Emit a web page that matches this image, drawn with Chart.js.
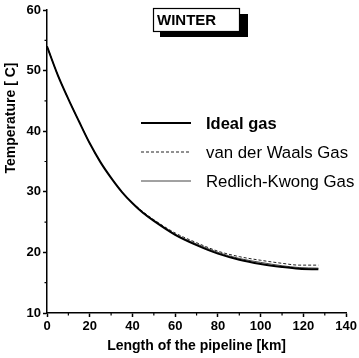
<!DOCTYPE html>
<html>
<head>
<meta charset="utf-8">
<script src="https://cdn.jsdelivr.net/npm/chart.js@4.4.1/dist/chart.umd.min.js"></script>
<style>
html,body{margin:0;padding:0;background:#fff;}
#wrap{width:359px;height:358px;position:relative;}
</style>
</head>
<body>
<div id="wrap"><canvas id="c" width="359" height="358"></canvas></div>
<script>
// Distance along pipeline [km]
const distance = [0, 5, 10, 15, 20, 25, 30, 35, 40, 45, 50, 60, 70, 80, 90, 100, 110, 118, 127];
// Temperature [C]
const idealGas   = [54.0, 49.3, 45.3, 41.6, 38.0, 34.9, 32.3, 30.0, 28.1, 26.5, 25.2, 22.9, 21.2, 19.8, 18.8, 18.1, 17.6, 17.3, 17.2];
const vanDerWaals = [54.0, 49.3, 45.3, 41.6, 38.0, 34.9, 32.3, 30.0, 28.2, 26.7, 25.4, 23.2, 21.6, 20.2, 19.3, 18.7, 18.2, 17.9, 17.9];
const redlichKwong = [54.0, 49.3, 45.3, 41.6, 38.0, 34.9, 32.3, 30.0, 28.1, 26.6, 25.3, 23.0, 21.4, 20.0, 19.0, 18.35, 17.8, 17.5, 17.4];
const seriesNames = ["Ideal gas", "van der Waals Gas", "Redlich-Kwong Gas"];
const xTicks = [0, 20, 40, 60, 80, 100, 120, 140];
const yTicks = [10, 20, 30, 40, 50, 60];
const xMinor = [10, 30, 50, 70, 90, 110, 130];
const yMinor = [15, 25, 35, 45, 55];
const panelLabel = "WINTER";
const xTitle = "Length of the pipeline [km]";
const yTitle = "Temperature [ C]";

const FONT = "'Liberation Sans', Arial, sans-serif";
const toXY = arr => arr.map((v, i) => ({x: distance[i], y: v}));

const extras = {
  id: 'extras',
  afterDraw(chart) {
    const ctx = chart.ctx;
    const xs = chart.scales.x, ys = chart.scales.y;
    const ca = chart.chartArea;
    ctx.save();
    // minor ticks
    ctx.strokeStyle = '#000';
    ctx.lineWidth = 1.2;
    ctx.beginPath();
    yMinor.forEach(v => { const p = ys.getPixelForValue(v); ctx.moveTo(ca.left - 2.5, p); ctx.lineTo(ca.left, p); });
    xMinor.forEach(v => { const p = xs.getPixelForValue(v); ctx.moveTo(p, ca.bottom); ctx.lineTo(p, ca.bottom + 2.5); });
    ctx.stroke();
    // axis titles
    ctx.fillStyle = '#000';
    ctx.font = "bold 14px " + FONT;
    ctx.textAlign = 'center';
    ctx.textBaseline = 'middle';
    ctx.fillText(xTitle, (ca.left + ca.right) / 2, 346);
    ctx.save();
    ctx.translate(11, 118);
    ctx.rotate(-Math.PI / 2);
    ctx.font = "bold 14px " + FONT;
    ctx.fillText(yTitle, 0, 0);
    ctx.restore();
    // legend
    const ly = [123, 152, 181];
    chart.data.datasets.forEach((ds, i) => {
      ctx.save();
      ctx.strokeStyle = ds.borderColor;
      ctx.lineWidth = ds.borderWidth;
      ctx.setLineDash(ds.borderDash || []);
      ctx.beginPath();
      ctx.moveTo(141, ly[i]);
      ctx.lineTo(191, ly[i]);
      ctx.stroke();
      ctx.restore();
      ctx.fillStyle = '#000';
      ctx.textAlign = 'left';
      ctx.textBaseline = 'middle';
      ctx.font = (i === 0 ? "bold 16.5px " : "16.8px ") + FONT;
      ctx.fillText(ds.label, 206, ly[i] + 1);
    });
    // WINTER box
    ctx.fillStyle = '#000';
    ctx.fillRect(160, 14, 88, 23);
    ctx.fillStyle = '#fff';
    ctx.fillRect(153, 8, 87, 24);
    ctx.strokeStyle = '#000';
    ctx.lineWidth = 1.2;
    ctx.strokeRect(153.5, 8.5, 86, 23);
    ctx.fillStyle = '#000';
    ctx.font = "bold 15px " + FONT;
    ctx.textAlign = 'left';
    ctx.fillText(panelLabel, 157, 21);
    ctx.restore();
  }
};

new Chart(document.getElementById('c'), {
  type: 'line',
  data: {
    datasets: [
      { label: seriesNames[0], data: toXY(idealGas), borderColor: '#000', borderWidth: 2, pointRadius: 0, cubicInterpolationMode: 'monotone', fill: false },
      { label: seriesNames[1], data: toXY(vanDerWaals), borderColor: '#222', borderWidth: 1, borderDash: [3, 2], pointRadius: 0, cubicInterpolationMode: 'monotone', fill: false },
      { label: seriesNames[2], data: toXY(redlichKwong), borderColor: '#444', borderWidth: 1, pointRadius: 0, cubicInterpolationMode: 'monotone', fill: false }
    ]
  },
  options: {
    responsive: false,
    animation: false,
    layout: { padding: { top: 10, right: 11, left: 0, bottom: 0 } },
    plugins: { legend: { display: false }, tooltip: { enabled: false } },
    scales: {
      x: {
        type: 'linear', min: 0, max: 140,
        afterBuildTicks: s => { s.ticks = xTicks.map(v => ({value: v})); },
        afterFit: s => { s.height = 45; },
        grid: { drawOnChartArea: false, tickLength: 4, tickWidth: 1.5, tickColor: '#000' },
        border: { color: '#000', width: 1.5 },
        ticks: { color: '#000', font: { family: FONT, size: 13, weight: 'bold' }, padding: 2, maxRotation: 0 }
      },
      y: {
        type: 'linear', min: 10, max: 60,
        afterBuildTicks: s => { s.ticks = yTicks.map(v => ({value: v})); },
        afterFit: s => { s.width = 47; },
        grid: { drawOnChartArea: false, tickLength: 4, tickWidth: 1.5, tickColor: '#000' },
        border: { color: '#000', width: 1.5 },
        ticks: { color: '#000', font: { family: FONT, size: 13, weight: 'bold' }, padding: 2 }
      }
    }
  },
  plugins: [extras]
});
</script>
</body>
</html>
